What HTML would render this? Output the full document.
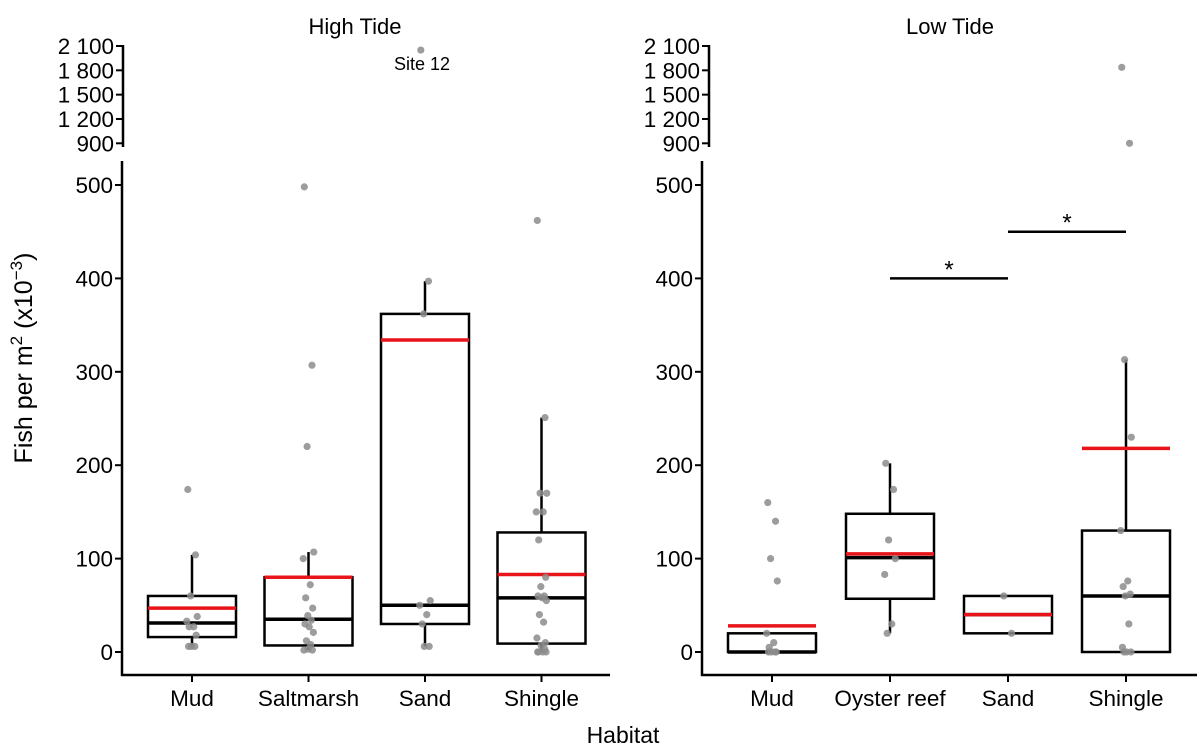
<!DOCTYPE html>
<html><head><meta charset="utf-8"><style>
html,body{margin:0;padding:0;background:#fff;}
svg{display:block;font-family:"Liberation Sans",Arial,sans-serif;}
</style></head><body>
<svg id="chart" width="1200" height="753" viewBox="0 0 1200 753">
<g id="root"></g>
</svg>
<script>
// ---- data ----
const highCats = ["Mud","Saltmarsh","Sand","Shingle"];
const lowCats = ["Mud","Oyster reef","Sand","Shingle"];
const highQ1 = [16, 7, 30, 9];
const highMed = [31, 35, 50, 58];
const highQ3 = [60, 80, 362, 128];
const highMean = [47, 80, 334, 83];
const highWLo = [6, 2, 6, 0];
const highWHi = [104, 107, 397, 251];
const highPts = [
  [174,104,60,38,33,27,27,18,6,6,6],
  [498,307,220,107,100,72,58,47,39,34,30,27,21,12,8,2,2,3],
  [2050,397,362,55,50,40,30,6,6],
  [462,251,170,170,150,150,120,80,70,60,60,58,55,40,32,15,10,7,3,0,0,0,0]
];
const lowQ1 = [0, 57, 20, 0];
const lowMed = [0, 101, 40, 60];
const lowQ3 = [20, 148, 60, 130];
const lowMean = [28, 105, 40, 218];
const lowWLo = [0, 20, 20, 0];
const lowWHi = [20, 202, 60, 313];
const lowPts = [
  [160,140,100,76,20,10,5,0,0,0,0],
  [202,174,120,100,83,30,20],
  [60,20],
  [1837,900,313,230,130,76,70,62,60,30,5,0,0,0]
];
const lowerTicks = [0,100,200,300,400,500];
const upperTicks = [900,1200,1500,1800,2100];
const upperTickLabels = ["900","1 200","1 500","1 800","2 100"];
const sigBars = [[1,2,400],[2,3,450]];

// ---- scales ----
const NS = "http://www.w3.org/2000/svg";
const root = document.getElementById('root');
function yLow(v){ return 652 - v*0.934; }
function yUp(v){ return 46 + (2100 - v)*(97.3/1200); }
function yVal(v){ return v > 600 ? yUp(v) : yLow(v); }
function mk(tag, attrs, parent){
  const e = document.createElementNS(NS, tag);
  for (const k in attrs) e.setAttribute(k, attrs[k]);
  (parent||root).appendChild(e);
  return e;
}
const jit = [-0.12,0.1,-0.04,0.15,-0.15,0.05,-0.08,0.12,-0.02,0.08,-0.1,0.02,0.14,-0.06,0.06,-0.13,0.11,-0.01,0.09,-0.09,0.03,-0.11,0.13];

function panel(opts){
  const g = mk('g', {});
  
  
  const ax = opts.ax, c0 = opts.c0, step = opts.step, hw = 44;
  const xc = i => c0 + i*step;
  const t = mk('text', {x: opts.titleX, y: 34, 'font-size': 22, 'text-anchor':'middle', fill:'#000'}, g);
  t.textContent = opts.title;
  
  
  const la = mk('line', {x1: ax, y1: 161, x2: ax, y2: 676, stroke:'#000','stroke-width':2.5}, g);
  
  
  lowerTicks.forEach(v => {
    const y = yLow(v);
    mk('line', {x1: ax-7, y1: y, x2: ax, y2: y, stroke:'#000','stroke-width':2}, g);
    const tl = mk('text', {x: ax-9, y: y+8, 'font-size': 22.5, 'text-anchor':'end', fill:'#000'}, g);
    tl.textContent = String(v);
    
    
  });
  const ux = ax + opts.upShift;
  const ua = mk('line', {x1: ux, y1: 45, x2: ux, y2: 147, stroke:'#000','stroke-width':2.5}, g);
  
  
  upperTicks.forEach((v,i) => {
    const y = yUp(v);
    mk('line', {x1: ux-7, y1: y, x2: ux, y2: y, stroke:'#000','stroke-width':2}, g);
    const tl = mk('text', {x: ux-9, y: y+8, 'font-size': 22.5, 'text-anchor':'end', fill:'#000'}, g);
    tl.textContent = upperTickLabels[i];
    
    
  });
  const xa = mk('line', {x1: ax-1, y1: 675, x2: opts.axEnd, y2: 675, stroke:'#000','stroke-width':2.5}, g);
  
  
  opts.cats.forEach((c,i) => {
    mk('line', {x1: xc(i), y1: 675, x2: xc(i), y2: 682, stroke:'#000','stroke-width':2}, g);
    const tl = mk('text', {x: xc(i), y: 706, 'font-size': 22.5, 'text-anchor':'middle', fill:'#000'}, g);
    tl.textContent = c;
    
    
  });
  opts.cats.forEach((c,i) => {
    const x = xc(i);
    const bg = mk('g', {}, g);
    
    
    mk('line', {x1:x, y1:yLow(opts.wHi[i]), x2:x, y2:yLow(opts.q3[i]), stroke:'#000','stroke-width':2.5}, bg);
    mk('line', {x1:x, y1:yLow(opts.q1[i]), x2:x, y2:yLow(opts.wLo[i]), stroke:'#000','stroke-width':2.5}, bg);
    mk('rect', {x:x-hw, y:yLow(opts.q3[i]), width:2*hw, height:Math.max(0.5, yLow(opts.q1[i])-yLow(opts.q3[i])), fill:'none', stroke:'#000','stroke-width':2.5}, bg);
    mk('line', {x1:x-hw, y1:yLow(opts.med[i]), x2:x+hw, y2:yLow(opts.med[i]), stroke:'#000','stroke-width':3.5}, bg);
    const mn = mk('line', {x1:x-hw, y1:yLow(opts.mean[i]), x2:x+hw, y2:yLow(opts.mean[i]), stroke:'#e8141a','stroke-width':3.5}, bg);
    
    
    opts.pts[i].forEach((v,j) => {
      const p = mk('circle', {cx: x + jit[j % jit.length]*step*0.3, cy: yVal(v), r:3.6, fill:'#8c8c8c', 'fill-opacity':0.85}, bg);
      
      
    });
  });
  return {g, xc};
}

const L = panel({name:'high-tide-panel', title:'High Tide', titleX:355, ax:122, upShift:1, c0:192, step:116.5, axEnd:610,
  cats:highCats, q1:highQ1, med:highMed, q3:highQ3, mean:highMean, wLo:highWLo, wHi:highWHi, pts:highPts});
const R = panel({name:'low-tide-panel', title:'Low Tide', titleX:950, ax:702, upShift:7, c0:772, step:118, axEnd:1197,
  cats:lowCats, q1:lowQ1, med:lowMed, q3:lowQ3, mean:lowMean, wLo:lowWLo, wHi:lowWHi, pts:lowPts});

const s12 = mk('text', {x:422, y:70, 'font-size':18, 'text-anchor':'middle', fill:'#000'});
s12.textContent = 'Site 12';



sigBars.forEach(b => {
  const x1 = R.xc(b[0]), x2 = R.xc(b[1]), y = yLow(b[2]);
  const sl = mk('line', {x1:x1, y1:y, x2:x2, y2:y, stroke:'#000','stroke-width':2.5});
  
  
  const st = mk('text', {x:(x1+x2)/2, y:y-1, 'font-size':24, 'text-anchor':'middle', fill:'#000'});
  st.textContent = '*';
  
  
});

const xt = mk('text', {x:623, y:743, 'font-size':23, 'text-anchor':'middle', fill:'#000'});
xt.textContent = 'Habitat';


const yt = mk('text', {x:0, y:0, 'font-size':25, 'text-anchor':'middle', fill:'#000', transform:'translate(32,358) rotate(-90)'});


yt.innerHTML = 'Fish per m<tspan dy="-10" font-size="17">2</tspan><tspan dy="10"> (x10</tspan><tspan dy="-10" font-size="17">−3</tspan><tspan dy="10">)</tspan>';
</script>
</body></html>
